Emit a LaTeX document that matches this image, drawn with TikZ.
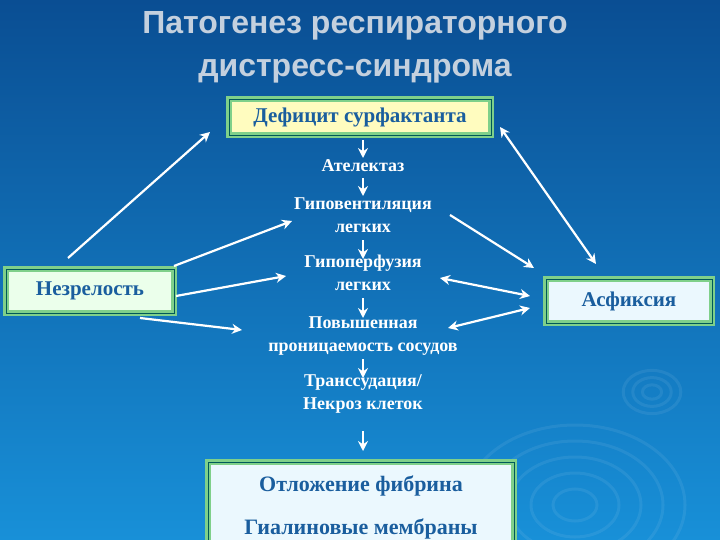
\documentclass[tikz,border=0pt]{standalone}
\usepackage{fontspec}
\setmainfont{Liberation Serif}
\newfontfamily\titlefont{Liberation Sans}
\usetikzlibrary{arrows.meta}
\definecolor{bgtop}{HTML}{0A4E93}
\definecolor{bgbot}{HTML}{1890D8}
\definecolor{txtblue}{HTML}{1A5E9E}
\definecolor{titlecol}{HTML}{C4D0DE}
\definecolor{bordgreen}{HTML}{7FD08A}
\begin{document}
\begin{tikzpicture}[x=1pt,y=-1pt,
  wtext/.style={text=white,font=\bfseries\fontsize{18}{23}\selectfont,align=center},
  wbox/.style={draw=bordgreen,line width=2.5pt,double=teal!70!black,double distance=0.6pt,text=txtblue,font=\bfseries\fontsize{21}{24}\selectfont,align=center},
  warr/.style={draw=white,line width=2.2pt,-{Stealth[length=10pt,width=10pt]}},
  wdarr/.style={draw=white,line width=2.2pt,{Stealth[length=10pt,width=10pt]}-{Stealth[length=10pt,width=10pt]}},
  ripple/.style={draw=white,opacity=0.07,line width=3pt}]
\useasboundingbox (0,0) rectangle (720,540);
\shade[top color=bgtop,bottom color=bgbot] (0,0) rectangle (720,540);
\foreach \r in {20,40,60,80,100}{\draw[ripple] (575,505) ellipse ({\r*1.1} and \r*0.8);}
\foreach \r in {8,16,24}{\draw[ripple] (652,392) ellipse ({\r*1.2} and \r*0.9);}
\node[text=titlecol,font=\titlefont\bfseries\fontsize{32}{43}\selectfont,align=center] (title) at (355,47) {Патогенез респираторного\\дистресс-синдрома};
\node[wbox,fill=yellow!25,minimum width=262pt,minimum height=36pt] (def) at (360,117) {Дефицит сурфактанта};
\node[wtext] (atel) at (363,166) {Ателектаз};
\node[wtext] (hypov) at (363,215) {Гиповентиляция\\легких};
\node[wtext] (hypop) at (363,273) {Гипоперфузия\\легких};
\node[wtext] (perm) at (363,336) {Повышенная\\проницаемость сосудов};
\node[wtext] (trans) at (363,394) {Транссудация/\\Некроз клеток};
\node[wbox,fill=cyan!8,minimum width=306pt,minimum height=90pt,anchor=north,font=\bfseries\fontsize{22}{43}\selectfont] (fib) at (361,461) {Отложение фибрина\\Гиалиновые мембраны};
\node[wbox,fill=green!8,minimum width=168pt,minimum height=44pt] (imm) at (90,291) {Незрелость};
\node[wbox,fill=cyan!8,minimum width=166pt,minimum height=44pt] (asf) at (629,301) {Асфиксия};
% down arrows
\coordinate (d1a) at (363,140); \coordinate (d1b) at (363,158);
\coordinate (d2a) at (363,178); \coordinate (d2b) at (363,196);
\coordinate (d3a) at (363,240); \coordinate (d3b) at (363,259);
\coordinate (d4a) at (363,298); \coordinate (d4b) at (363,318);
\coordinate (d5a) at (363,359); \coordinate (d5b) at (363,378);
\coordinate (d6a) at (363,431); \coordinate (d6b) at (363,451);
\foreach \i in {1,...,6}{\draw[warr] (d\i a) -- (d\i b);}
% diagonal arrows
\coordinate (i1) at (68,258); \coordinate (i1e) at (210,132);
\coordinate (i2) at (174,266); \coordinate (i2e) at (292,221);
\coordinate (i3) at (176,296); \coordinate (i3e) at (286,276);
\coordinate (i4) at (140,318); \coordinate (i4e) at (242,330);
\coordinate (v1) at (450,215); \coordinate (v1e) at (534,268);
\coordinate (p1) at (440,278); \coordinate (p1e) at (530,296);
\coordinate (q1) at (448,328); \coordinate (q1e) at (530,308);
\coordinate (s1) at (500,127); \coordinate (s1e) at (596,264);
\draw[warr] (i1) -- (i1e);
\draw[warr] (i2) -- (i2e);
\draw[warr] (i3) -- (i3e);
\draw[warr] (i4) -- (i4e);
\draw[warr] (v1) -- (v1e);
\draw[wdarr] (p1) -- (p1e);
\draw[wdarr] (q1) -- (q1e);
\draw[wdarr] (s1) -- (s1e);
\end{tikzpicture}
\end{document}
